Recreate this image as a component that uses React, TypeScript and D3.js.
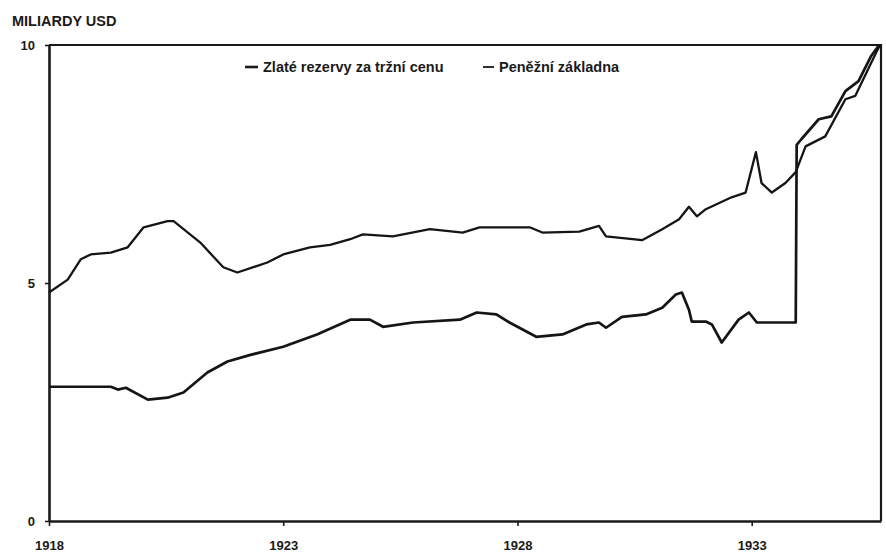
import React, { useEffect, useRef } from 'react';
import * as d3 from 'd3';

// Peněžní základna (monetary base), mld. USD
const baseYears = [1918.0, 1918.4, 1918.68, 1918.89, 1919.32, 1919.68, 1920.02, 1920.53, 1920.66, 1921.23, 1921.72, 1922.02, 1922.66, 1923.0, 1923.57, 1924.0, 1924.43, 1924.7, 1925.34, 1926.13, 1926.83, 1927.19, 1928.26, 1928.53, 1929.32, 1929.74, 1929.89, 1930.66, 1931.09, 1931.45, 1931.66, 1931.83, 1932.02, 1932.57, 1932.87, 1933.09, 1933.21, 1933.43, 1933.72, 1933.94, 1934.15, 1934.57, 1935.0, 1935.21, 1935.49, 1935.66, 1935.74];
const baseValues = [4.8, 5.07, 5.5, 5.6, 5.64, 5.75, 6.17, 6.3, 6.3, 5.85, 5.33, 5.22, 5.43, 5.6, 5.75, 5.8, 5.92, 6.02, 5.98, 6.13, 6.06, 6.17, 6.17, 6.06, 6.08, 6.2, 5.98, 5.9, 6.13, 6.34, 6.6, 6.4, 6.55, 6.8, 6.9, 7.75, 7.1, 6.9, 7.1, 7.33, 7.87, 8.08, 8.86, 8.93, 9.5, 9.85, 10.0];

// Zlaté rezervy za tržní cenu (gold reserves at market price), mld. USD
const goldYears = [1918.0, 1919.32, 1919.47, 1919.64, 1920.11, 1920.53, 1920.87, 1921.38, 1921.81, 1922.3, 1923.0, 1923.72, 1924.43, 1924.85, 1925.13, 1925.77, 1926.77, 1927.13, 1927.55, 1927.83, 1928.4, 1928.96, 1929.47, 1929.74, 1929.89, 1930.23, 1930.74, 1931.09, 1931.38, 1931.51, 1931.66, 1931.72, 1932.02, 1932.15, 1932.36, 1932.72, 1932.94, 1933.11, 1933.94, 1933.96, 1934.06, 1934.43, 1934.7, 1935.0, 1935.28, 1935.55, 1935.72];
const goldValues = [2.82, 2.82, 2.76, 2.8, 2.55, 2.59, 2.7, 3.12, 3.35, 3.49, 3.66, 3.92, 4.23, 4.23, 4.08, 4.17, 4.23, 4.38, 4.34, 4.17, 3.87, 3.92, 4.13, 4.17, 4.06, 4.29, 4.34, 4.48, 4.76, 4.8, 4.44, 4.19, 4.19, 4.13, 3.75, 4.23, 4.38, 4.17, 4.17, 7.9, 8.02, 8.44, 8.5, 9.03, 9.24, 9.77, 10.0];

const xTicks = [1918, 1923, 1928, 1933];
const yTicks = [0, 5, 10];
const legendLabels = ['Zlaté rezervy za tržní cenu', 'Peněžní základna'];

const App: React.FC = () => {
  const svgRef = useRef<SVGSVGElement>(null);

  useEffect(() => {
    const width = 886;
    const height = 555;
    const left = 49, right = 881, top = 45, bottom = 521;
    const font = '"Liberation Sans", Arial, sans-serif';

    const svg = d3.select(svgRef.current)
      .attr('width', width)
      .attr('height', height);
    svg.selectAll('*').remove();

    svg.append('rect').attr('width', width).attr('height', height).attr('fill', '#fff');

    const x = d3.scaleLinear().domain([1918, 1935.76]).range([left, right]);
    const y = d3.scaleLinear().domain([0, 10]).range([bottom, top]);

    // frame (top + right)
    svg.append('path')
      .attr('d', `M${left},${top}H${right}V${bottom}`)
      .attr('fill', 'none')
      .attr('stroke', '#1a1a1a')
      .attr('stroke-width', 2.2);

    // axes
    const xAxis = svg.append('g')
      .attr('transform', `translate(0,${bottom})`)
      .call(d3.axisBottom(x).tickValues(xTicks).tickFormat(d3.format('d')).tickSize(5).tickSizeOuter(0));
    xAxis.select('.domain').attr('stroke', '#1a1a1a').attr('stroke-width', 2.6);
    xAxis.selectAll('.tick line').attr('stroke', '#1a1a1a').attr('stroke-width', 1.6);
    xAxis.selectAll('.tick text')
      .attr('dy', 0)
      .attr('y', 29)
      .attr('fill', '#1a1a1a')
      .style('font-family', font)
      .style('font-weight', 'bold')
      .style('font-size', '13px');

    const yAxis = svg.append('g')
      .attr('transform', `translate(${left},0)`)
      .call(d3.axisLeft(y).tickValues(yTicks).tickFormat(d3.format('d')).tickSize(4).tickSizeOuter(0));
    yAxis.select('.domain').attr('stroke', '#1a1a1a').attr('stroke-width', 2.6);
    yAxis.selectAll('.tick line').attr('stroke', '#1a1a1a').attr('stroke-width', 1.6);
    yAxis.selectAll('.tick text')
      .attr('x', -14)
      .attr('fill', '#1a1a1a')
      .style('font-family', font)
      .style('font-weight', 'bold')
      .style('font-size', '13px');

    svg.append('text')
      .attr('x', 12)
      .attr('y', 26)
      .attr('fill', '#1a1a1a')
      .style('font-family', font)
      .style('font-weight', 'bold')
      .style('font-size', '14.5px')
      .text('MILIARDY USD');

    const line = d3.line<[number, number]>()
      .x(d => x(d[0]))
      .y(d => y(d[1]));

    const base = baseYears.map((yr, i) => [yr, baseValues[i]] as [number, number]);
    const gold = goldYears.map((yr, i) => [yr, goldValues[i]] as [number, number]);

    svg.append('path')
      .datum(base)
      .attr('fill', 'none')
      .attr('stroke', '#151515')
      .attr('stroke-width', 2.3)
      .attr('stroke-linejoin', 'round')
      .attr('d', line);

    svg.append('path')
      .datum(gold)
      .attr('fill', 'none')
      .attr('stroke', '#151515')
      .attr('stroke-width', 2.7)
      .attr('stroke-linejoin', 'round')
      .attr('d', line);

    // legend
    const legend = svg.append('g').attr('transform', 'translate(0,72)');
    const items = [
      { x: 245, w: 13, sw: 2.6, label: legendLabels[0] },
      { x: 483, w: 11, sw: 1.8, label: legendLabels[1] },
    ];
    items.forEach(it => {
      legend.append('line')
        .attr('x1', it.x).attr('x2', it.x + it.w)
        .attr('y1', -5).attr('y2', -5)
        .attr('stroke', '#1a1a1a')
        .attr('stroke-width', it.sw);
      legend.append('text')
        .attr('x', it.x + it.w + 5)
        .attr('y', 0)
        .attr('fill', '#1a1a1a')
        .style('font-family', font)
        .style('font-weight', 'bold')
        .style('font-size', '14.5px')
        .text(it.label);
    });
  }, []);

  return <svg ref={svgRef} style={{ position: 'absolute', left: 0, top: 0 }}></svg>;
};

export default App;
